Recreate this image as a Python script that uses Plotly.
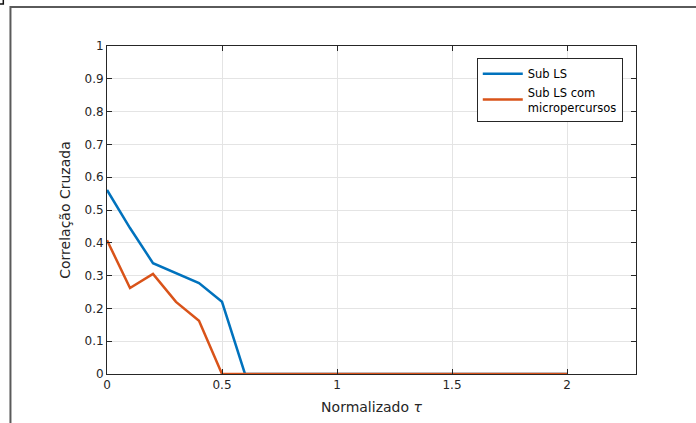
import plotly.graph_objects as go

# Normalised lag values
tau = [0.0, 0.1, 0.2, 0.3, 0.4, 0.5, 0.6, 0.7, 0.8, 0.9, 1.0,
       1.1, 1.2, 1.3, 1.4, 1.5, 1.6, 1.7, 1.8, 1.9, 2.0]

# Cross-correlation curves
sub_ls = [0.561, 0.445, 0.338, 0.308, 0.277, 0.22, 0.0, 0.0, 0.0, 0.0, 0.0,
          0.0, 0.0, 0.0, 0.0, 0.0, 0.0, 0.0, 0.0, 0.0, 0.0]
sub_ls_micro = [0.408, 0.262, 0.305, 0.22, 0.162, 0.0, 0.0, 0.0, 0.0, 0.0, 0.0,
                0.0, 0.0, 0.0, 0.0, 0.0, 0.0, 0.0, 0.0, 0.0, 0.0]

series_names = ["Sub LS", "Sub LS com<br>micropercursos"]

x_ticks = [0, 0.5, 1, 1.5, 2]
x_tick_labels = ["0", "0.5", "1", "1.5", "2"]
y_ticks = [0, 0.1, 0.2, 0.3, 0.4, 0.5, 0.6, 0.7, 0.8, 0.9, 1]
y_tick_labels = ["0", "0.1", "0.2", "0.3", "0.4", "0.5", "0.6", "0.7", "0.8", "0.9", "1"]

BLUE = "#0072BD"
ORANGE = "#D95319"
AXIS = "#262626"
FONT = "DejaVu Sans"

fig = go.Figure()
fig.add_trace(go.Scatter(x=tau, y=sub_ls, mode="lines", name=series_names[0],
                         line=dict(color=BLUE, width=2.5)))
fig.add_trace(go.Scatter(x=tau, y=sub_ls_micro, mode="lines", name=series_names[1],
                         line=dict(color=ORANGE, width=2.5)))

axis_common = dict(
    showline=True, linecolor=AXIS, linewidth=1, mirror="ticks",
    ticks="inside", ticklen=5, tickcolor=AXIS, tickwidth=1,
    showgrid=True, gridcolor="#e4e4e4", gridwidth=1,
    zeroline=False, tickfont=dict(family=FONT, size=12, color=AXIS),
)

fig.update_xaxes(range=[0, 2.3], tickvals=x_ticks, ticktext=x_tick_labels,
                 title=dict(text="Normalizado <i>τ</i>", standoff=10,
                            font=dict(family=FONT, size=14, color=AXIS)),
                 **axis_common)
fig.update_yaxes(range=[0, 1], tickvals=y_ticks, ticktext=y_tick_labels,
                 title=dict(text="Correlação Cruzada", standoff=10,
                            font=dict(family=FONT, size=14, color=AXIS)),
                 **axis_common)

# Figure frame lines
fig.add_shape(type="path", xref="paper", yref="paper",
              path="M -0.1825,-0.2 L -0.1825,1.119 L 1.2,1.119",
              line=dict(color="#5a5a5a", width=2))
fig.add_shape(type="path", xref="paper", yref="paper",
              path="M -0.2025,1.128 L -0.196,1.128 L -0.196,1.14",
              line=dict(color="#111111", width=1.5))

fig.update_layout(
    width=696, height=423,
    margin=dict(l=107, r=60, t=46, b=49),
    paper_bgcolor="white", plot_bgcolor="white",
    font=dict(family=FONT, color=AXIS),
    showlegend=True,
    legend=dict(x=0.975, y=0.963, xanchor="right", yanchor="top",
                bgcolor="white", bordercolor=AXIS, borderwidth=1,
                font=dict(family=FONT, size=11.5, color="#000000"),
                tracegroupgap=0, itemwidth=40),
)

fig.write_html("out.html")
